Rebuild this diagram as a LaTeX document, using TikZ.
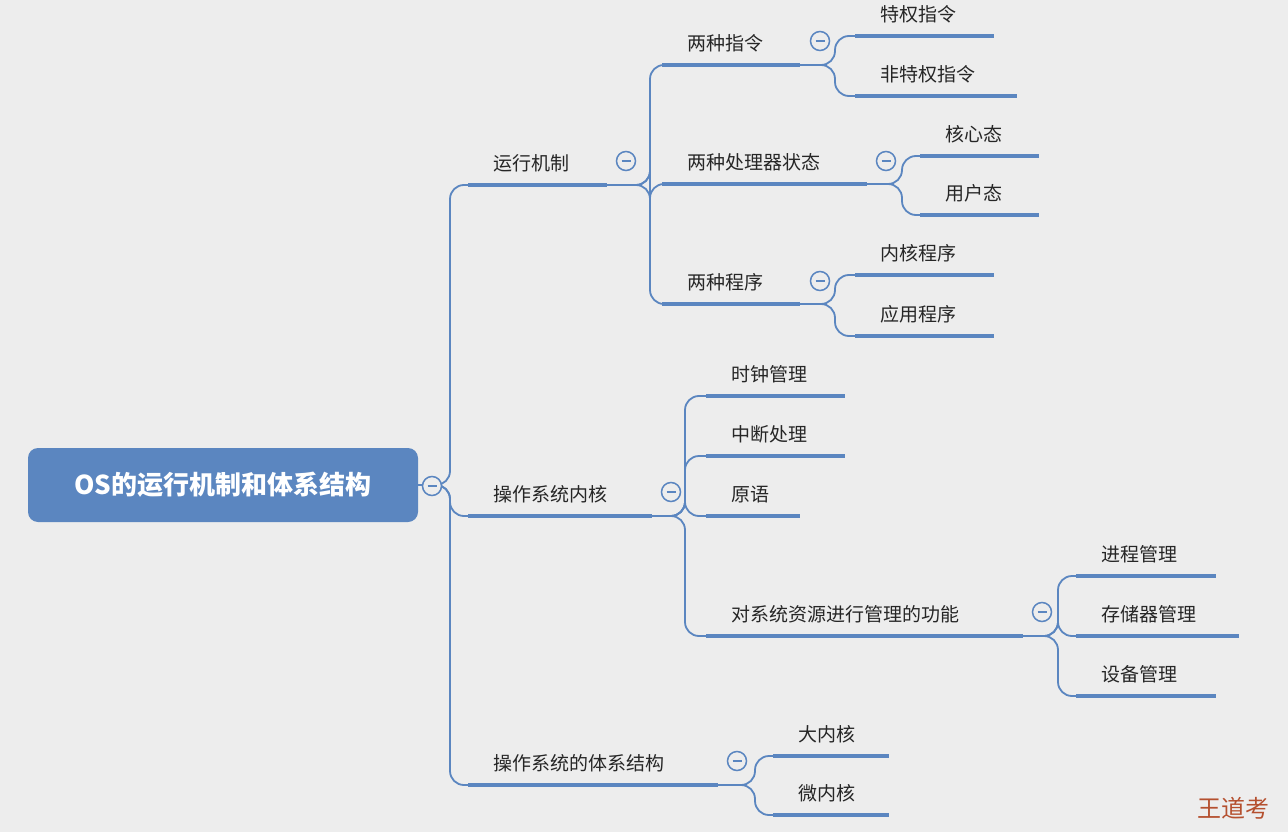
\documentclass[tikz,border=0pt]{standalone}
\usepackage{fontspec}
\newfontfamily\cjk{Noto Sans CJK SC}
\definecolor{ln}{HTML}{5B86C0}
\definecolor{bg}{HTML}{EDEDED}
\definecolor{wm}{HTML}{B5502F}
\tikzset{
 bar/.style={ln,line width=4pt},
 conn/.style={ln,line width=1.8pt,rounded corners=14pt},
 lbl/.style={anchor=south west,inner sep=0pt,font=\cjk\fontsize{19}{19}\selectfont,text=black!85},
 coll/.style={circle,draw=ln,line width=1.5pt,minimum size=19pt,inner sep=0pt,fill=bg},
}
\newcommand\mnode[5]{%
 \coordinate (#1-s) at (#2,#4); \coordinate (#1-e) at (#3,#4);
 \draw[bar] (#1-s) -- (#1-e);
 \node[lbl] (#1) at (#2+25,#4-13) {#5};}
\begin{document}
\begin{tikzpicture}[x=1pt,y=-1pt]
\clip (0,0) rectangle (1288,832);
\fill[bg] (0,0) rectangle (1288,832);
% root
\node[fill=ln,rounded corners=10pt,minimum width=390pt,minimum height=74pt,text=white,font=\cjk\bfseries\fontsize{26}{26}\selectfont] (root) at (223,485) {OS的运行机制和体系结构};
% level1
\mnode{a}{468}{607}{185}{运行机制}
\mnode{b}{468}{652}{516}{操作系统内核}
\mnode{c}{468}{718}{785}{操作系统的体系结构}
% level2
\mnode{a1}{662}{800}{65}{两种指令}
\mnode{a2}{662}{867}{184}{两种处理器状态}
\mnode{a3}{662}{800}{304}{两种程序}
\mnode{a11}{855}{994}{36}{特权指令}
\mnode{a12}{855}{1017}{96}{非特权指令}
\mnode{a21}{920}{1039}{156}{核心态}
\mnode{a22}{920}{1039}{215}{用户态}
\mnode{a31}{855}{994}{275}{内核程序}
\mnode{a32}{855}{994}{336}{应用程序}
\mnode{b1}{706}{845}{396}{时钟管理}
\mnode{b2}{706}{845}{456}{中断处理}
\mnode{b3}{706}{800}{516}{原语}
\mnode{b4}{706}{1023}{636}{对系统资源进行管理的功能}
\mnode{b41}{1076}{1216}{576}{进程管理}
\mnode{b42}{1076}{1239}{636}{存储器管理}
\mnode{b43}{1076}{1216}{696}{设备管理}
\mnode{c1}{773}{889}{756}{大内核}
\mnode{c2}{773}{889}{815}{微内核}
% connectors
\foreach \c in {a,b,c} \draw[conn] (root.east) -- (450,485) |- (\c-s);
\foreach \c in {a1,a2,a3} \draw[conn] (a-e) -- (650,185) |- (\c-s);
\foreach \c in {a11,a12} \draw[conn] (a1-e) -- (835,65) |- (\c-s);
\foreach \c in {a21,a22} \draw[conn] (a2-e) -- (902,184) |- (\c-s);
\foreach \c in {a31,a32} \draw[conn] (a3-e) -- (835,304) |- (\c-s);
\foreach \c in {b1,b2,b3,b4} \draw[conn] (b-e) -- (685,516) |- (\c-s);
\foreach \c in {b41,b42,b43} \draw[conn] (b4-e) -- (1058,636) |- (\c-s);
\foreach \c in {c1,c2} \draw[conn] (c-e) -- (755,785) |- (\c-s);
% collapse markers
\foreach \p [count=\i] in {(432,486),(626,161),(671,492),(737,761),(820,41),(886,161),(820,281),(1042,612)}{
 \node[coll] (m\i) at \p {};
 \draw[ln,line width=1.6pt] ([xshift=-4.5pt]m\i.center) -- ([xshift=4.5pt]m\i.center);}
\node[anchor=west,inner sep=0pt,text=wm,font=\cjk\fontsize{24}{24}\selectfont] (wmk) at (1197,808) {王道考};
\end{tikzpicture}
\end{document}
